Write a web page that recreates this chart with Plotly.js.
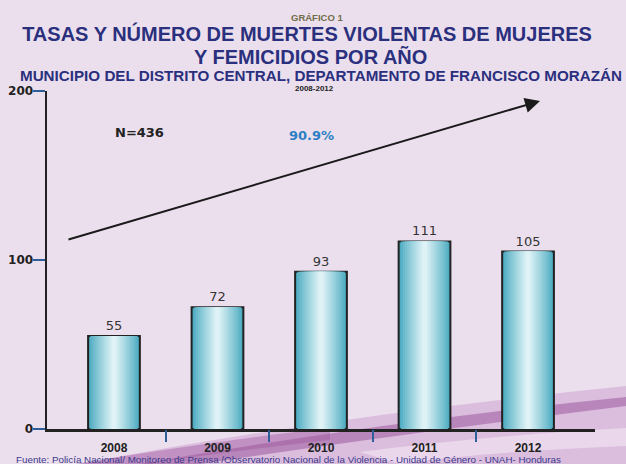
<!DOCTYPE html>
<html>
<head>
<meta charset="utf-8">
<script src="https://cdn.plot.ly/plotly-3.0.1.min.js"></script>
<style>
html,body{margin:0;padding:0;background:#ecdfed;}
#chart{width:626px;height:464px;}
</style>
</head>
<body>
<div id="chart"></div>
<script>
// ---- data ----
const years = ["2008", "2009", "2010", "2011", "2012"];
const deaths = [55, 72, 93, 111, 105];
const rates = ["9.7", "12.5", "15.8", "18.5", "16.8"];
const yTicks = [0, 100, 200];
const totalLabel = "N=436";
const growthLabel = "90.9%";

// ---- layout helpers ----
const W = 626, H = 464;
const L = 47, R = 31, T = 91, B = 35;
const pw = W - L - R, ph = H - T - B;
const px = x => (x - L) / pw;
const py = y => (H - B - y) / ph;

// gradient bars: overlaid bars of decreasing width
const edge = [74, 170, 192], mid = [223, 243, 246];
const layers = 12;
const traces = [];
for (let i = 0; i < layers; i++) {
  const t = i / (layers - 1);
  const c = edge.map((e, k) => Math.round(e + (mid[k] - e) * Math.pow(t, 0.9)));
  const w = 0.5 * (1 - i / layers);
  traces.push({
    type: 'bar', x: years, y: deaths, width: w,
    marker: {color: `rgb(${c[0]},${c[1]},${c[2]})`,
             line: {color: i === 0 ? '#222' : 'rgba(0,0,0,0)', width: i === 0 ? 2 : 0}},
    text: i === 0 ? deaths.map(String) : undefined,
    textposition: i === 0 ? 'outside' : 'none',
    textfont: {family: 'DejaVu Sans', size: 13, color: '#333'},
    cliponaxis: false,
    hoverinfo: 'skip', showlegend: false
  });
}
// separator ticks on an overlaid numeric axis
traces.push({type: 'scatter', x: [0], y: [0], xaxis: 'x2', mode: 'markers',
  marker: {opacity: 0}, hoverinfo: 'skip', showlegend: false});

const rateY = [29.6, 33.7, 33.7, 39, 38.5];
const annotations = [];
const txt = (x, y, text, font, xanchor) => ({xref: 'paper', yref: 'paper', x: px(x), y: py(y),
  xanchor: xanchor || 'center', yanchor: 'middle', text: text, showarrow: false, font: font});
years.forEach((yr, i) => {
  annotations.push({x: yr, y: rateY[i], xref: 'x', yref: 'y', text: '<b>' + rates[i] + '</b>',
    xanchor: 'center', yanchor: 'middle',
    showarrow: false, font: {family: 'DejaVu Sans', size: 13, color: '#222'}});
});
annotations.push(
  txt(310, 57, '<b>Y FEMICIDIOS POR AÑO</b>', {family: 'Liberation Sans', size: 20, color: '#2a2f7e'}),
  txt(321, 75, '<b>MUNICIPIO DEL DISTRITO CENTRAL, DEPARTAMENTO DE FRANCISCO MORAZÁN</b>',
      {family: 'Liberation Sans', size: 15.2, color: '#2a2f7e'}),
  txt(317, 17, '<b>GRÁFICO 1</b>', {family: 'Liberation Sans', size: 9.5, color: '#6e6e4a'}),
  txt(314, 89, '<b>2008-2012</b>', {family: 'Liberation Sans', size: 8, color: '#222'}),
  txt(14, 460, 'Fuente: Policía Nacional/ Monitoreo de Prensa /Observatorio Nacional de la Violencia - Unidad de Género - UNAH- Honduras',
      {family: 'Liberation Sans', size: 9.8, color: '#3a3a8c'}, 'left'),
  txt(139, 132, '<b>' + totalLabel + '</b>', {family: 'DejaVu Sans', size: 13, color: '#222'}),
  txt(311, 135, '<b>' + growthLabel + '</b>', {family: 'DejaVu Sans', size: 13, color: '#2a7fc4'}),
  {xref: 'paper', yref: 'paper', x: px(540), y: py(101), ax: 67 - 540, ay: 240 - 101, text: '',
   showarrow: true, arrowhead: 2, arrowsize: 1.5, arrowwidth: 2, arrowcolor: '#1a1a1a'}
);

const shapes = [
  {type: 'path', xref: 'paper', yref: 'paper', layer: 'below', line: {width: 0},
   fillcolor: 'rgba(205,160,210,0.55)',
   path: `M ${px(80)} ${py(464)} Q ${px(330)} ${py(416)} ${px(626)} ${py(386)} L ${px(626)} ${py(464)} Z`},
  {type: 'path', xref: 'paper', yref: 'paper', layer: 'below', line: {width: 0},
   fillcolor: 'rgba(150,80,150,0.5)',
   path: `M ${px(140)} ${py(464)} Q ${px(380)} ${py(422)} ${px(626)} ${py(397)} L ${px(626)} ${py(406)} Q ${px(400)} ${py(434)} ${px(200)} ${py(464)} Z`},
  {type: 'path', xref: 'paper', yref: 'paper', layer: 'below', line: {width: 0},
   fillcolor: 'rgba(160,90,160,0.45)',
   path: `M ${px(75)} ${py(464)} Q ${px(220)} ${py(440)} ${px(330)} ${py(428)} L ${px(330)} ${py(440)} Q ${px(200)} ${py(455)} ${px(150)} ${py(464)} Z`},
  {type: 'path', xref: 'paper', yref: 'paper', layer: 'below', line: {width: 0},
   fillcolor: 'rgba(245,232,245,0.6)',
   path: `M ${px(360)} ${py(452)} Q ${px(480)} ${py(436)} ${px(626)} ${py(428)} L ${px(626)} ${py(446)} Q ${px(480)} ${py(452)} ${px(400)} ${py(464)} Z`}
];

const range = [-0.647, 4.647];
const layout = {
  width: W, height: H,
  margin: {l: L, r: R, t: T, b: B, pad: 0},
  paper_bgcolor: '#ecdfed', plot_bgcolor: 'rgba(0,0,0,0)',
  barmode: 'overlay',
  title: {text: '<b>TASAS Y NÚMERO DE MUERTES VIOLENTAS DE MUJERES</b>',
          x: px(307), xref: 'paper', xanchor: 'center', y: 1 - 34 / H, yref: 'container', yanchor: 'middle',
          font: {family: 'Liberation Sans', size: 20, color: '#2a2f7e'}},
  xaxis: {type: 'category', range: range, showgrid: false, zeroline: false,
          showline: true, linecolor: '#222', linewidth: 2.5, ticks: '',
          ticklabelstandoff: 6,
          tickfont: {family: 'Liberation Sans', size: 12, color: '#222', weight: 'bold'}},
  xaxis2: {overlaying: 'x', anchor: 'y', side: 'bottom', range: range, showgrid: false,
           zeroline: false, showline: false, tickvals: [0.5, 1.5, 2.5, 3.5],
           ticktext: ['', '', '', ''], ticks: 'outside', ticklen: 12, tickwidth: 2,
           tickcolor: '#2f5f9a'},
  yaxis: {range: [0, 200], tickvals: yTicks, showgrid: false, zeroline: false,
          showline: true, linecolor: '#222', linewidth: 2.5, ticks: 'outside', ticklen: 12,
          tickwidth: 2, tickcolor: '#2f5f9a', ticklabelstandoff: -3,
          tickfont: {family: 'DejaVu Sans', size: 12, color: '#222', weight: 'bold'}},
  annotations: annotations,
  shapes: shapes,
  hovermode: false
};

Plotly.newPlot('chart', traces, layout, {displayModeBar: false, staticPlot: true});
</script>
</body>
</html>
